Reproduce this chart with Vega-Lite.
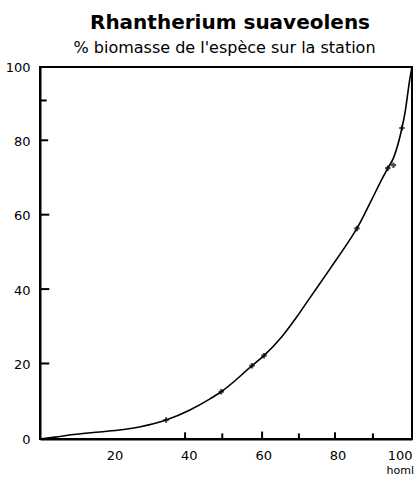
{
  "$schema": "https://vega.github.io/schema/vega-lite/v6.json",
  "autosize": "none",
  "width": 372,
  "height": 372,
  "padding": {"left": 40, "top": 67, "right": 3, "bottom": 45},
  "background": "white",
  "config": {
    "view": {"stroke": "black", "strokeWidth": 2},
    "font": "DejaVu Sans"
  },
  "title": {
    "text": "Rhantherium suaveolens",
    "anchor": "middle",
    "fontSize": 20,
    "fontWeight": "bold",
    "font": "DejaVu Sans",
    "color": "black",
    "dy": -2,
    "dx": 4
  },
  "datasets": {
    "curve": [
      {"x": 0, "y": 0},
      {"x": 4, "y": 0.5},
      {"x": 9, "y": 1.2},
      {"x": 16, "y": 1.9},
      {"x": 22, "y": 2.5},
      {"x": 27, "y": 3.3},
      {"x": 33.9, "y": 5.1},
      {"x": 40.3, "y": 7.8},
      {"x": 45.7, "y": 10.8},
      {"x": 48.7, "y": 12.7},
      {"x": 57, "y": 19.7},
      {"x": 60.2, "y": 22.4},
      {"x": 65, "y": 27.5},
      {"x": 69, "y": 32.8},
      {"x": 72.6, "y": 38},
      {"x": 78, "y": 45.8},
      {"x": 83.3, "y": 53.6},
      {"x": 85.2, "y": 56.6},
      {"x": 89, "y": 64},
      {"x": 92.2, "y": 70.4},
      {"x": 93.5, "y": 72.8},
      {"x": 95, "y": 75.5},
      {"x": 97.3, "y": 83.6},
      {"x": 98.1, "y": 87.6},
      {"x": 99.5, "y": 97.3},
      {"x": 100, "y": 100}
    ],
    "marks": [
      {"x": 33.9, "y": 5.1},
      {"x": 48.7, "y": 12.7},
      {"x": 57, "y": 19.7},
      {"x": 60.2, "y": 22.4},
      {"x": 85.2, "y": 56.6},
      {"x": 93.5, "y": 72.8},
      {"x": 95, "y": 73.6},
      {"x": 97.3, "y": 83.6}
    ],
    "ticks": [
      {"x": 39, "x2": 39, "y": 0, "y2": 1.8},
      {"x": 49, "x2": 49, "y": 0, "y2": 1.5},
      {"x": 59.7, "x2": 59.7, "y": 0, "y2": 2.0},
      {"x": 69.6, "x2": 69.6, "y": 0, "y2": 1.5},
      {"x": 79.3, "x2": 79.3, "y": 0, "y2": 1.8},
      {"x": 89.5, "x2": 89.5, "y": 0, "y2": 1.5},
      {"x": 0, "x2": 2.5, "y": 20.3, "y2": 20.3},
      {"x": 0, "x2": 2.5, "y": 40.3, "y2": 40.3},
      {"x": 0, "x2": 2.5, "y": 60.3, "y2": 60.3},
      {"x": 0, "x2": 2.2, "y": 80.3, "y2": 80.3},
      {"x": 0, "x2": 1.8, "y": 91, "y2": 91}
    ]
  },
  "layer": [
    {
      "data": {"name": "curve"},
      "mark": {"type": "line", "color": "black", "strokeWidth": 1.6, "interpolate": "monotone"},
      "encoding": {
        "x": {
          "field": "x", "type": "quantitative",
          "scale": {"domain": [0, 100], "nice": false, "zero": true},
          "axis": {
            "title": "homl",
            "titleAngle": 0, "titleAlign": "left", "titleBaseline": "middle",
            "titleX": 346, "titleY": 31,
            "titleFont": "DejaVu Sans", "titleFontSize": 11, "titleFontWeight": "normal", "titleColor": "black",
            "values": [20, 40, 60, 80, 100],
            "ticks": false,
            "labelPadding": 10,
            "labelFontSize": 13, "labelColor": "black", "labelFont": "DejaVu Sans",
            "domainColor": "black", "domainWidth": 2,
            "grid": false
          }
        },
        "y": {
          "field": "y", "type": "quantitative",
          "scale": {"domain": [0, 100], "nice": false},
          "axis": {
            "title": "% biomasse de l'espèce sur la station",
            "titleAngle": 0, "titleAlign": "left", "titleBaseline": "middle",
            "titleX": 33, "titleY": -20,
            "titleFont": "DejaVu Sans", "titleFontSize": 16, "titleFontWeight": "normal", "titleColor": "black",
            "values": [0, 20, 40, 60, 80, 100],
            "ticks": false,
            "labelPadding": 10,
            "labelFontSize": 13, "labelColor": "black", "labelFont": "DejaVu Sans",
            "domainColor": "black", "domainWidth": 2,
            "grid": false
          }
        }
      }
    },
    {
      "data": {"name": "marks"},
      "mark": {"type": "point", "shape": "cross", "filled": true, "color": "black", "size": 30},
      "encoding": {
        "x": {"field": "x", "type": "quantitative"},
        "y": {"field": "y", "type": "quantitative"}
      }
    },
    {
      "data": {"name": "ticks"},
      "mark": {"type": "rule", "color": "black", "strokeWidth": 2},
      "encoding": {
        "x": {"field": "x", "type": "quantitative"},
        "x2": {"field": "x2"},
        "y": {"field": "y", "type": "quantitative"},
        "y2": {"field": "y2"}
      }
    }
  ]
}
